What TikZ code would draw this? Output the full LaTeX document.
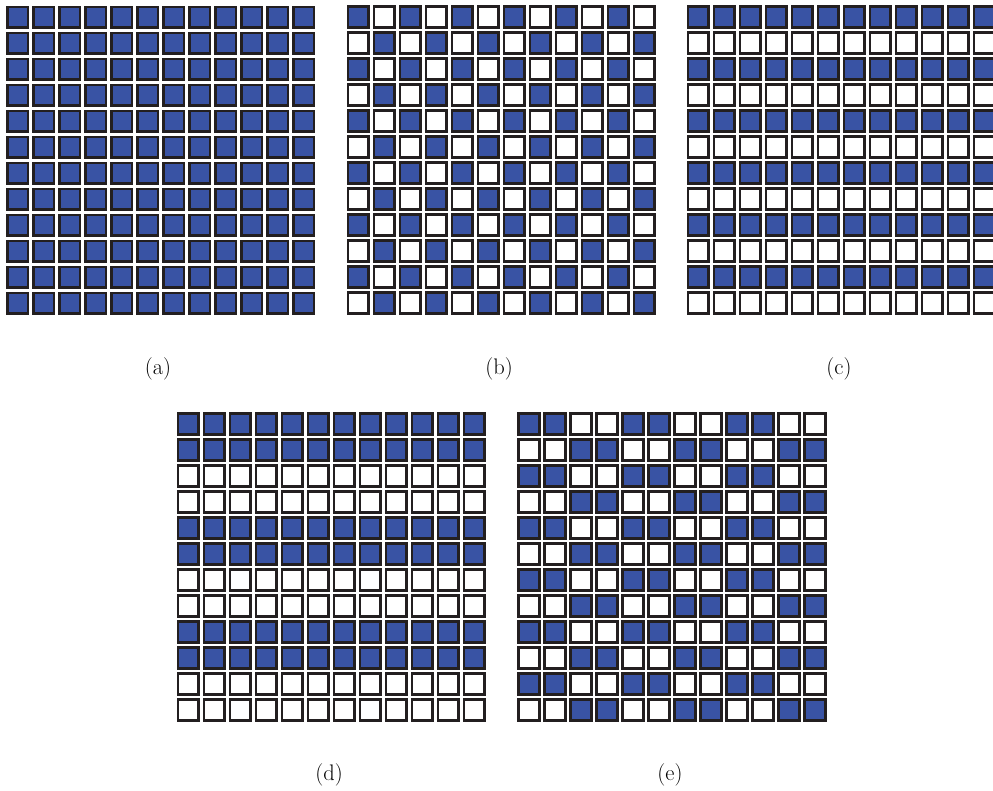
\documentclass[tikz,border=0pt]{standalone}
\definecolor{cellblue}{RGB}{57,83,164}
\definecolor{cellframe}{RGB}{35,31,32}
\tikzset{
  cellon/.style={draw=cellframe, line width=2.7pt, fill=cellblue},
  celloff/.style={draw=cellframe, line width=2.7pt, fill=white},
  lab/.style={font=\fontsize{22.5}{26}\selectfont, inner sep=0pt}
}
\newcommand\mygrid[3]{% origin x, origin y, pattern
  \foreach \r in {0,...,11}{%
    \foreach \c in {0,...,11}{%
      \ifcase#3 \def\v{0}%
      \or \pgfmathtruncatemacro\v{mod(\r+\c,2)}%
      \or \pgfmathtruncatemacro\v{mod(\r,2)}%
      \or \pgfmathtruncatemacro\v{mod(floor(\r/2),2)}%
      \or \pgfmathtruncatemacro\v{mod(floor(\c/2)+\r,2)}%
      \fi
      \ifnum\v=0 \def\st{cellon}\else\def\st{celloff}\fi
      \pgfmathsetmacro\xx{#1+26*\c+1.35}%
      \pgfmathsetmacro\yy{#2+26*\r+1.35}%
      \path[\st] (\xx,\yy) rectangle ++(20.6,20.6);
    }%
  }%
}
\begin{document}
\begin{tikzpicture}[x=1pt,y=-1pt]
\useasboundingbox (0,0) rectangle (993,791);
\clip (0,0) rectangle (993,791);
\mygrid{6}{5.7}{0}
\mygrid{346.7}{5.3}{1}
\mygrid{686.7}{5.3}{2}
\mygrid{176.7}{412.3}{3}
\mygrid{517.3}{412.3}{4}
\node[lab] (la) at (158,369) {(a)};
\node[lab] (lb) at (499,369) {(b)};
\node[lab] (lc) at (839,369) {(c)};
\node[lab] (ld) at (329,775) {(d)};
\node[lab] (le) at (670,775) {(e)};
\end{tikzpicture}
\end{document}
